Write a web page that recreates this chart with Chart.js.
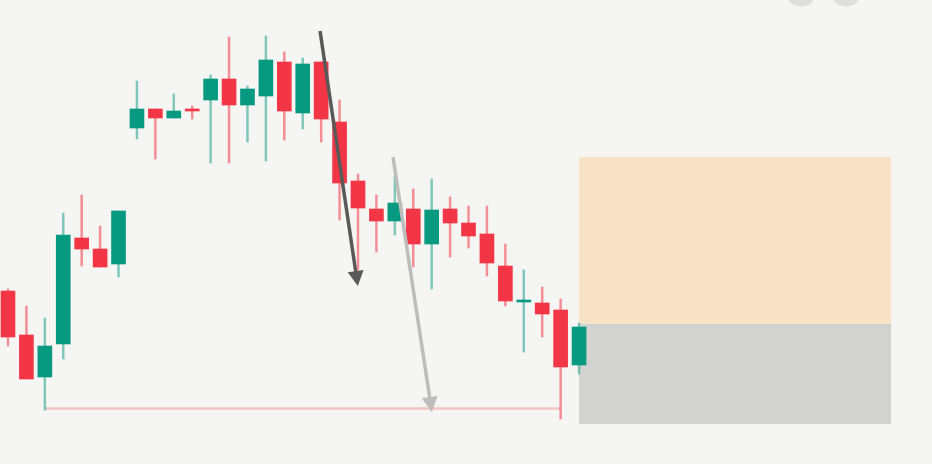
<!DOCTYPE html>
<html>
<head>
<meta charset="utf-8">
<script src="https://cdn.jsdelivr.net/npm/chart.js@4.4.1/dist/chart.umd.min.js"></script>
<style>
  html, body { margin: 0; padding: 0; background: #f5f5f3; }
  #wrap { width: 932px; height: 464px; position: relative; }
</style>
</head>
<body>
<div id="wrap"><canvas id="chart"></canvas></div>
<script>
// candle data, one entry per bar (index = x position)
const opens  = [143.25, 132.25, 121.75, 130, 156.5, 153.75, 150, 184, 188.75, 186.5, 188.75, 191, 196.25, 189.75, 192, 200.5,
                187.75, 200.5, 185.5, 170.75, 163.75, 160.75, 163.75, 155, 163.75, 160.25, 157.5, 149.5, 140.5, 140.25, 138.5, 124.75];
const highs  = [143.75, 139.5, 136.5, 162.75, 167.25, 159.5, 163.25, 195.75, 188.75, 192.5, 189.5, 197.25, 206.75, 194.5, 207, 203,
                201.5, 200.5, 191, 172.5, 167.25, 172, 168.75, 171.25, 166.75, 164.5, 164.5, 155, 148.5, 144.25, 141.25, 135.25];
const lows   = [129.5, 121.25, 113.5, 126.25, 149.5, 149.25, 146.75, 181.25, 176.25, 186.5, 186.25, 175.25, 175.25, 180.5, 175.75, 181,
                183.75, 180.5, 161, 148.5, 153, 157.25, 149.25, 143.75, 151.75, 154, 147, 139.5, 128, 131.75, 111.25, 122.5];
const closes = [131.75, 121.25, 129.5, 157.25, 153.75, 149.25, 163.25, 188.75, 186.5, 188.25, 188.25, 196.25, 189.75, 193.75, 201, 188.25,
                200, 186.25, 170.25, 164, 160.75, 165.25, 155, 163.5, 160.25, 157, 150.25, 140.75, 141, 137.5, 124.25, 134.25];

// drawings (x in bar index units, y in price)
const supportLine = [{ x: 2, y: 113.9 }, { x: 30, y: 113.9 }];
const darkArrow   = [{ x: 16.94, y: 208.25 }, { x: 18.96, y: 145.5 }];
const lightArrow  = [{ x: 20.9, y: 176.75 }, { x: 22.98, y: 114 }];
const zoneX       = [31, 47.94];
const upperZone   = [135, 176.75];
const lowerZone   = [110, 135];

const RED = '#f23645';
const GREEN = '#089981';

const isUp = opens.map((o, i) => closes[i] >= o);
const bodies = opens.map((o, i) => ({ x: i, y: [o, closes[i]] }));
const wicks = lows.map((l, i) => ({ x: i, y: [l, highs[i]] }));

const zonesPlugin = {
  id: 'zones',
  beforeDatasetsDraw(chart) {
    const { ctx, scales } = chart;
    const x0 = scales.x.getPixelForValue(zoneX[0]);
    const x1 = scales.x.getPixelForValue(zoneX[1]);
    ctx.save();
    ctx.fillStyle = '#f8e3c6';
    let yTop = scales.y.getPixelForValue(upperZone[1]);
    let yBot = scales.y.getPixelForValue(upperZone[0]);
    ctx.fillRect(x0, yTop, x1 - x0, yBot - yTop);
    ctx.fillStyle = '#d2d2d1';
    yTop = scales.y.getPixelForValue(lowerZone[1]);
    yBot = scales.y.getPixelForValue(lowerZone[0]);
    ctx.fillRect(x0, yTop, x1 - x0, yBot - yTop);

    // faint watermark, mostly off the top edge
    ctx.fillStyle = '#dfdfde';
    ctx.font = 'bold 58px Roboto';
    ctx.textBaseline = 'alphabetic';
    ctx.fillText('e', 784, 6);
    ctx.fillText('e', 829, 6);
    ctx.restore();
  },
};

const arrowHeads = {
  id: 'arrowHeads',
  afterDatasetsDraw(chart) {
    const { ctx } = chart;
    chart.data.datasets.forEach((ds, i) => {
      if (!ds.arrow) return;
      const pts = chart.getDatasetMeta(i).data;
      const a = pts[0], b = pts[pts.length - 1];
      const ang = Math.atan2(b.y - a.y, b.x - a.x);
      const cos = Math.cos(ang), sin = Math.sin(ang);
      const tipX = b.x + cos * 4, tipY = b.y + sin * 4;
      const bx = b.x - cos * 11, by = b.y - sin * 11;
      const half = 8;
      ctx.save();
      ctx.fillStyle = ds.borderColor;
      ctx.beginPath();
      ctx.moveTo(tipX, tipY);
      ctx.lineTo(bx + sin * half, by - cos * half);
      ctx.lineTo(bx - sin * half, by + cos * half);
      ctx.closePath();
      ctx.fill();
      ctx.restore();
    });
  },
};

new Chart(document.getElementById('chart'), {
  type: 'bar',
  data: {
    datasets: [
      {
        type: 'line',
        data: darkArrow,
        borderColor: '#595959',
        borderWidth: 3.5,
        pointRadius: 0,
        arrow: true,
        order: 0,
      },
      {
        type: 'line',
        data: lightArrow,
        borderColor: '#bdbdbc',
        borderWidth: 3.5,
        pointRadius: 0,
        arrow: true,
        order: 0,
      },
      {
        data: bodies,
        backgroundColor: isUp.map(u => u ? GREEN : RED),
        borderWidth: 0,
        barThickness: 14,
        minBarLength: 2,
        grouped: false,
        order: 1,
      },
      {
        data: wicks,
        backgroundColor: isUp.map(u => u ? 'rgba(8,153,129,0.5)' : 'rgba(242,54,69,0.55)'),
        borderWidth: 0,
        barThickness: 1.8,
        grouped: false,
        order: 2,
      },
      {
        type: 'line',
        data: supportLine,
        borderColor: '#f5c3c1',
        borderWidth: 2.5,
        pointRadius: 0,
        order: 3,
      },
    ],
  },
  options: {
    responsive: true,
    maintainAspectRatio: false,
    animation: false,
    layout: { padding: 0 },
    plugins: { legend: { display: false }, tooltip: { enabled: false } },
    scales: {
      x: { type: 'linear', min: -0.434, max: 50.16, display: false, offset: false },
      y: { min: 100, max: 216, display: false },
    },
  },
  plugins: [zonesPlugin, arrowHeads],
});
</script>
</body>
</html>
